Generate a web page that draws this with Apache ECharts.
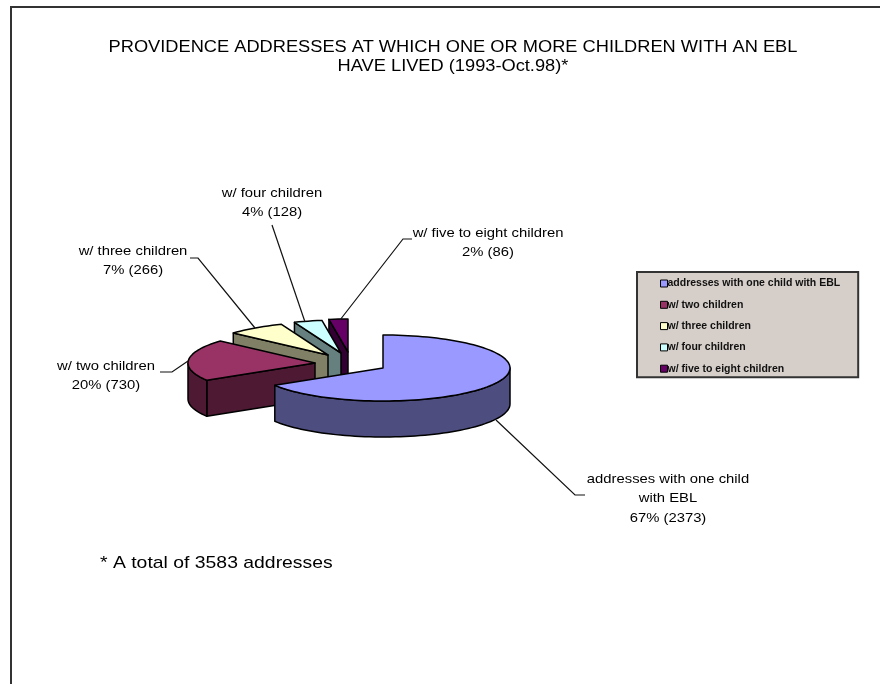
<!DOCTYPE html>
<html>
<head>
<meta charset="utf-8">
<style>html,body{margin:0;padding:0;background:#fff}#chart{width:880px;height:684px;filter:blur(0.45px)}</style>
<script src="https://cdn.jsdelivr.net/npm/echarts@6/dist/echarts.min.js"></script>
</head>
<body>
<div id="chart"></div>
<script>
// ---- data ----
const sliceNames = ['addresses with one child with EBL','w/ two children','w/ three children','w/ four children','w/ five to eight children'];
const sliceValues = [2373, 730, 266, 128, 86];
const percentLabels = ['67%','20%','7%','4%','2%'];
const labelLines = [
  ['addresses with one child','with EBL'],
  ['w/ two children'],
  ['w/ three children'],
  ['w/ four children'],
  ['w/ five to eight children']
];
const titleLines = ['PROVIDENCE ADDRESSES AT WHICH ONE OR MORE CHILDREN WITH AN EBL','HAVE LIVED (1993-Oct.98)*'];
const footnote = '* A total of 3583 addresses';

// ---- styles and layout ----
const topColors = ['#9999FF','#993366','#FFFFCC','#CCFFFF','#660066'];
const wallColors = ['#4D4D80','#4D1933','#808066','#668080','#330033'];
const apexes = [[383,368],[315,363],[328,355],[341,353],[348,352]];
const RX = 127, RY = 33, DEPTH = 36;
const labelPos = [[668,479],[106,366],[133,251],[272,193],[488,233]];
const leaders = [
  [[496,420],[575,495],[585,495]],
  [[160,372],[172,372],[188,361]],
  [[190,258],[198,258],[255,328]],
  [[272,225],[305,322]],
  [[340,320],[403,239],[412,239]]
];
const FONT = '"Liberation Sans", Arial, sans-serif';
const WIDE = 1.14;
const TOTAL = sliceValues.reduce((a,b)=>a+b,0);

function renderSlice(params, api){
  const i = params.seriesIndex;
  const startVal = sliceValues.slice(0,i).reduce((a,b)=>a+b,0);
  const a0 = startVal/TOTAL*2*Math.PI;
  const a1 = (startVal+api.value(0))/TOTAL*2*Math.PI;
  const [cx,cy] = apexes[i];
  const pt = (a,d)=>[cx+RX*Math.sin(a), cy-RY*Math.cos(a)+(d||0)];
  const arc = (s,e,d)=>{const n=Math.max(2,Math.ceil(Math.abs(e-s)/0.04));const o=[];for(let k=0;k<=n;k++)o.push(pt(s+(e-s)*k/n,d));return o;};
  const sty = c=>({fill:c,stroke:'#000',lineWidth:1.5,lineJoin:'round'});
  const kids = [];
  // radial walls that face the viewer
  if (Math.sin(a0) < -1e-6) {
    const p = pt(a0);
    kids.push({type:'polygon',shape:{points:[p,[cx,cy],[cx,cy+DEPTH],[p[0],p[1]+DEPTH]]},style:sty(wallColors[i])});
  }
  if (Math.sin(a1) > 1e-6) {
    const p = pt(a1);
    kids.push({type:'polygon',shape:{points:[p,[cx,cy],[cx,cy+DEPTH],[p[0],p[1]+DEPTH]]},style:sty(wallColors[i])});
  }
  // outer wall: only the front half of the rim (90deg..270deg from the top)
  const fs = Math.max(a0, Math.PI/2), fe = Math.min(a1, 3*Math.PI/2);
  if (fe > fs) {
    kids.push({type:'polygon',shape:{points:arc(fs,fe,0).concat(arc(fs,fe,DEPTH).reverse())},style:sty(wallColors[i])});
  }
  // top face
  kids.push({type:'polygon',shape:{points:[[cx,cy]].concat(arc(a0,a1,0))},style:sty(topColors[i])});
  // leader line
  kids.push({type:'polyline',shape:{points:leaders[i]},style:{fill:'none',stroke:'#111',lineWidth:1.2}});
  // label text
  const lines = labelLines[i].concat([percentLabels[i]+' ('+api.value(0)+')']);
  lines.forEach((t,k)=>{
    kids.push({type:'text',x:labelPos[i][0],y:labelPos[i][1]+k*19.5,scaleX:WIDE,style:{text:t,align:'center',verticalAlign:'middle',font:'13px '+FONT,fill:'#000'}});
  });
  return {type:'group',children:kids};
}

const chart = echarts.init(document.getElementById('chart'),null,{renderer:'canvas'});
chart.setOption({
  animation:false,
  backgroundColor:'#fff',
  legend:{
    orient:'vertical',left:637,top:272,
    data:sliceNames,icon:'rect',itemWidth:7,itemHeight:7,itemGap:10.3,selectedMode:false,
    padding:[6,18,3,23],
    backgroundColor:'#D6CFC9',borderColor:'#333',borderWidth:2,
    itemStyle:{borderColor:'#000',borderWidth:1},
    textStyle:{fontFamily:FONT,fontSize:10.5,fontWeight:'bold',color:'#111',padding:[0,0,0,-5]}
  },
  graphic:[
    {type:'rect',silent:true,z:-1,shape:{x:11,y:7,width:900,height:720},style:{fill:'none',stroke:'#333',lineWidth:2}},
    {type:'text',x:453,y:47.5,scaleX:WIDE,style:{text:titleLines[0],align:'center',verticalAlign:'middle',font:'16px '+FONT,fill:'#000'}},
    {type:'text',x:453,y:66.5,scaleX:WIDE,style:{text:titleLines[1],align:'center',verticalAlign:'middle',font:'16px '+FONT,fill:'#000'}},
    {type:'text',x:100,y:563,scaleX:WIDE,style:{text:footnote,verticalAlign:'middle',font:'17px '+FONT,fill:'#000'}}
  ],
  series:sliceNames.map((n,i)=>({
    type:'custom',name:n,coordinateSystem:'none',z:10-i,silent:true,
    itemStyle:{color:topColors[i]},
    renderItem:renderSlice,
    data:[[sliceValues[i]]]
  }))
});
</script>
</body>
</html>
